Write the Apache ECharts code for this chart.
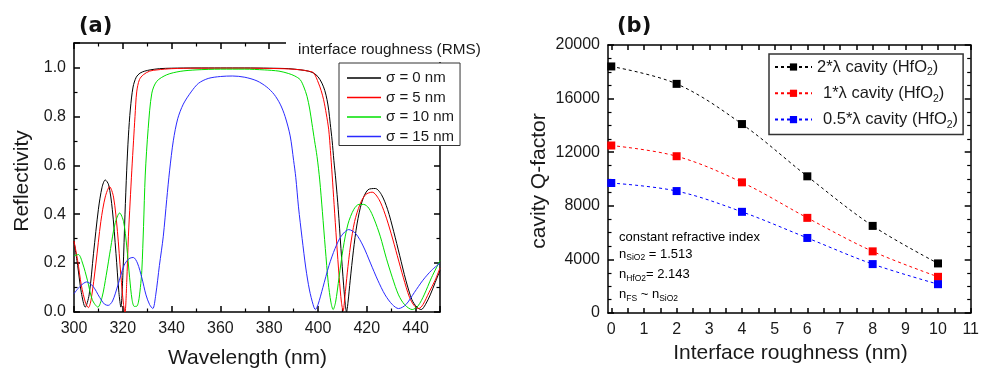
<!DOCTYPE html>
<html><head><meta charset="utf-8">
<script src="https://cdn.jsdelivr.net/npm/echarts@6/dist/echarts.min.js"></script>
<style>html,body{margin:0;padding:0;background:#fff}#c{width:982px;height:370px}</style>
</head><body><div id="c"></div>
<script>
// ---------- Panel (a): reflectivity spectra ----------
const sigmaNames = ['σ = 0 nm', 'σ = 5 nm', 'σ = 10 nm', 'σ = 15 nm'];
const wl0 = [300,301.5,303,304.6,306.2,308,310,311.5,312.8,314.2,315.7,317.2,318.4,319.2,320.1,320.9,321.6,322.3,323.1,324.2,325.5,327.1,329,331.2,335,340,350,360,370,380,388,393,396,398.2,400,401.6,402.8,403.7,404.4,405,405.8,406.5,407.3,408.3,409.4,410.5,411.2,411.7,412.3,413.2,414.5,416,418,420.5,423.5,426,428.5,431,433.5,436,438.5,440.5,442.3,444,446,448,450];
const r0  = [0.29,0.19,0.08,0.02,0.07,0.24,0.42,0.51,0.54,0.52,0.42,0.24,0.08,0.02,0.17,0.4,0.58,0.72,0.83,0.92,0.96,0.977,0.985,0.99,0.995,0.997,0.998,0.998,0.998,0.997,0.995,0.99,0.985,0.977,0.962,0.936,0.905,0.868,0.825,0.772,0.7,0.62,0.54,0.42,0.26,0.11,0.03,0.0,0.04,0.13,0.25,0.36,0.45,0.5,0.505,0.48,0.42,0.33,0.23,0.13,0.05,0.02,0.01,0.03,0.07,0.12,0.17];
const wl5 = [300,301.5,303,304.8,305.9,307,309,311,312.8,314.6,316.2,317.8,319.2,320.3,320.9,321.6,322.3,323,323.7,324.4,325,325.7,326.8,328.4,331,334,340,350,360,370,380,388,393,396,398.2,400.2,401.3,402.3,403.4,404.4,405.1,405.8,406.6,407.6,408.7,409.6,410.3,411,412,413.3,415,417.2,419.5,422.2,425,427.5,430,432.5,435,437.5,439.5,441.3,443,445.5,448,450];
const r5  = [0.29,0.21,0.11,0.035,0.018,0.05,0.2,0.37,0.47,0.512,0.47,0.33,0.15,0.03,0.0,0.12,0.31,0.45,0.58,0.7,0.8,0.9,0.95,0.97,0.985,0.99,0.995,0.997,0.997,0.997,0.996,0.994,0.99,0.985,0.978,0.936,0.905,0.868,0.81,0.745,0.66,0.56,0.44,0.29,0.14,0.04,0.005,0.06,0.16,0.27,0.37,0.44,0.48,0.49,0.46,0.4,0.32,0.23,0.14,0.06,0.025,0.014,0.03,0.08,0.13,0.18];
const wl10 = [300,301.8,303.5,305.5,307.5,309.8,311.5,313.2,315,316.8,318.7,320.3,321.6,322.8,323.8,324.7,325.6,326.4,327.2,327.8,328.5,329.2,330.4,331.9,333.9,338,343.5,350,360,370,378,384,388,390.5,392.7,394.2,395.5,396.6,397.5,398.6,399.6,400.7,401.8,403,404.2,405.3,406.2,407.2,408.6,410.3,412.3,414.7,416.8,418.7,420.8,423,425.5,428,430.5,433,435.5,438.6,441,443.5,446.5,450];
const r10  = [0.23,0.235,0.2,0.13,0.05,0.02,0.06,0.15,0.26,0.36,0.405,0.37,0.27,0.14,0.05,0.023,0.023,0.04,0.1,0.17,0.35,0.56,0.75,0.895,0.943,0.97,0.984,0.99,0.993,0.993,0.99,0.985,0.975,0.965,0.95,0.92,0.882,0.83,0.772,0.7,0.636,0.54,0.41,0.26,0.12,0.04,0.01,0.04,0.14,0.26,0.36,0.42,0.44,0.44,0.425,0.38,0.31,0.22,0.14,0.07,0.03,0.01,0.025,0.07,0.14,0.21];
const wl15 = [300,302.5,305.2,307.8,310.5,312.5,314,315.8,318,320.5,322.5,324.3,326,327.8,329.5,331,332.3,333.5,335,336.6,338,339.2,340.7,342.5,344.8,348,351,355,360,365,370,375,379,382,384.5,386.5,388.6,390,390.9,392,393.5,395,396.5,398,398.9,400,402,404.5,407,409.5,412.6,415.5,418.5,421.5,424.5,427.5,430.5,433,436,439.5,443,446.5,450];
const r15  = [0.075,0.105,0.123,0.105,0.06,0.032,0.027,0.045,0.11,0.19,0.218,0.223,0.2,0.14,0.07,0.03,0.014,0.07,0.19,0.31,0.46,0.58,0.7,0.79,0.85,0.9,0.935,0.955,0.963,0.965,0.96,0.945,0.92,0.89,0.85,0.8,0.72,0.62,0.55,0.43,0.3,0.18,0.09,0.03,0.01,0.03,0.1,0.19,0.26,0.31,0.337,0.32,0.27,0.2,0.13,0.07,0.03,0.014,0.03,0.08,0.13,0.17,0.2];

// ---------- Panel (b): cavity Q-factor ----------
const qNames = ['2*λ cavity (HfO2)', '1*λ cavity (HfO2)', '0.5*λ cavity (HfO2)'];
const roughness = [0, 2, 4, 6, 8, 10];
const q2   = [18400, 17100, 14100, 10200, 6500, 3700];
const q1   = [12500, 11700, 9750, 7100, 4600, 2700];
const q05  = [9700, 9100, 7550, 5600, 3650, 2150];
const bTickLabels = [0,1,2,3,4,5,6,7,8,9,10,11];
const bTicks = [0,0.5,1,1.5,2,2.5,3,3.5,4,4.5,5,5.5,6,6.5,7,7.5,8,8.5,9,9.5,10,10.5,11];

const FONT = '"Liberation Sans", Arial, Helvetica, sans-serif';
const TXT = '#1a1a1a';
const zip = (a, b) => a.map((v, i) => [v, b[i]]);

const frame = () => ({ show: true, onZero: false, lineStyle: { color: '#000', width: 1.5 } });
const tick = (len, extra) => Object.assign({ show: true, inside: true, length: len, lineStyle: { color: '#000', width: 1.5 } }, extra || {});
const minor = n => ({ show: true, splitNumber: n, length: 3.5, lineStyle: { color: '#000', width: 1.2 } });
const lab = extra => Object.assign({ fontSize: 16, color: TXT, fontFamily: FONT }, extra);

const leftColors = ['#000000', '#ff0000', '#00e000', '#2a2aff'];
const leftData = [zip(wl0, r0), zip(wl5, r5), zip(wl10, r10), zip(wl15, r15)];
const rightColors = ['#000000', '#ff0000', '#0000ff'];
const rightData = [zip(roughness, q2), zip(roughness, q1), zip(roughness, q05)];

const series = [];
leftData.forEach((d, i) => series.push({
  type: 'line', name: sigmaNames[i], xAxisIndex: 0, yAxisIndex: 0, data: d,
  symbol: 'none', showSymbol: false, smooth: 0.3,
  lineStyle: { color: leftColors[i], width: 1 }, itemStyle: { color: leftColors[i] },
  silent: true
}));
rightData.forEach((d, i) => series.push({
  type: 'line', name: qNames[i], xAxisIndex: 2, yAxisIndex: 2, data: d,
  symbol: 'rect', symbolSize: 8, smooth: 0.35,
  lineStyle: { color: rightColors[i], width: 1, type: [3, 3] },
  itemStyle: { color: rightColors[i] }, z: 3, silent: true
}));

const subRich = (mainSize, subSize, lh) => ({
  m: { fontSize: mainSize, fontFamily: FONT, color: TXT, lineHeight: lh },
  mi: { fontSize: mainSize, fontFamily: FONT, color: TXT, lineHeight: lh, padding: [0, 0, 0, 6] },
  sub: { fontSize: subSize, fontFamily: FONT, color: TXT, lineHeight: Math.round(subSize), verticalAlign: 'bottom' }
});
const annRich = {
  m: { fontSize: 13, fontFamily: FONT, color: '#333', lineHeight: 17 },
  s: { fontSize: 8.5, fontFamily: FONT, color: '#333', lineHeight: 8, verticalAlign: 'bottom' }
};

const option = {
  animation: false,
  backgroundColor: '#fff',
  grid: [
    { left: 74, top: 43, width: 366, height: 269 },
    { left: 608, top: 45, width: 365, height: 268 }
  ],
  xAxis: [
    { gridIndex: 0, type: 'value', min: 300, max: 450, interval: 20, position: 'bottom',
      axisLine: frame(), axisTick: tick(6), minorTick: minor(2), splitLine: { show: false },
      axisLabel: lab({ margin: 9, showMaxLabel: false }) },
    { gridIndex: 0, type: 'value', min: 300, max: 450, interval: 20, position: 'top',
      axisLine: frame(), axisTick: tick(6), minorTick: minor(2), splitLine: { show: false },
      axisLabel: { show: false } },
    { gridIndex: 1, type: 'value', min: -0.1, max: 11, position: 'bottom',
      axisLine: frame(), axisTick: tick(5, { customValues: bTicks }),
      splitLine: { show: false },
      axisLabel: lab({ margin: 9, customValues: bTickLabels }) },
    { gridIndex: 1, type: 'value', min: -0.1, max: 11, position: 'top',
      axisLine: frame(), axisTick: tick(5, { customValues: bTicks }),
      splitLine: { show: false }, axisLabel: { show: false } }
  ],
  yAxis: [
    { gridIndex: 0, type: 'value', min: 0, max: 1.1, interval: 0.2, position: 'left',
      axisLine: frame(), axisTick: tick(6), minorTick: minor(2), splitLine: { show: false },
      axisLabel: lab({ margin: 8, showMaxLabel: false, formatter: v => v.toFixed(1) }) },
    { gridIndex: 0, type: 'value', min: 0, max: 1.1, interval: 0.2, position: 'right',
      axisLine: frame(), axisTick: tick(6), minorTick: minor(2), splitLine: { show: false },
      axisLabel: { show: false } },
    { gridIndex: 1, type: 'value', min: 0, max: 20000, interval: 4000, position: 'left',
      axisLine: frame(), axisTick: tick(6), minorTick: minor(4), splitLine: { show: false },
      axisLabel: lab({ margin: 8, formatter: v => String(v) }) },
    { gridIndex: 1, type: 'value', min: 0, max: 20000, interval: 4000, position: 'right',
      axisLine: frame(), axisTick: tick(6), minorTick: minor(4), splitLine: { show: false },
      axisLabel: { show: false } }
  ],
  legend: [
    { data: sigmaNames, orient: 'vertical', left: 339, top: 63, icon: 'rect',
      itemWidth: 34, itemHeight: 1.5, itemGap: 1.5, padding: [6, 6, 0, 8],
      borderColor: '#333', borderWidth: 1, backgroundColor: '#fff', z: 120,
      selectedMode: false,
      textStyle: { fontSize: 15, fontFamily: FONT, color: TXT, lineHeight: 18 } },
    { data: qNames, orient: 'vertical', left: 769, top: 54,
      itemWidth: 37, itemHeight: 9, itemGap: 4.3, padding: [2, 5, 4, 5],
      borderColor: '#333', borderWidth: 1.5, backgroundColor: '#fff', z: 120,
      selectedMode: false,
      formatter: name => {
        const base = name.replace('HfO2)', 'HfO');
        const tag = qNames.indexOf(name) === 0 ? 'm' : 'mi';
        return '{' + tag + '|' + base + '}{sub|2}{m|)}';
      },
      textStyle: { fontSize: 16.5, fontFamily: FONT, color: TXT, lineHeight: 22, rich: subRich(16.5, 10.5, 22) } }
  ],
  graphic: [
    { type: 'rect', z: 50, shape: { x: 286, y: 33, width: 196, height: 29 }, style: { fill: '#fff' }, silent: true },
    { type: 'text', z: 60, x: 298, y: 50, style: { text: 'interface roughness (RMS)', font: '15.3px ' + FONT, fill: TXT, verticalAlign: 'middle' } },
    { type: 'text', z: 60, x: 79, y: 27, style: { text: '(a)', font: 'bold 21px "DejaVu Sans", sans-serif', fill: '#111', verticalAlign: 'middle' } },
    { type: 'text', z: 60, x: 617, y: 27, style: { text: '(b)', font: 'bold 21px "DejaVu Sans", sans-serif', fill: '#111', verticalAlign: 'middle' } },
    { type: 'text', z: 60, x: 22, y: 181, rotation: Math.PI / 2, style: { text: 'Reflectivity', font: '21px ' + FONT, fill: TXT, align: 'center', verticalAlign: 'middle' } },
    { type: 'text', z: 60, x: 247.5, y: 358, style: { text: 'Wavelength (nm)', font: '21px ' + FONT, fill: TXT, align: 'center', verticalAlign: 'middle' } },
    { type: 'text', z: 60, x: 539, y: 181, rotation: Math.PI / 2, style: { text: 'cavity Q-factor', font: '21px ' + FONT, fill: TXT, align: 'center', verticalAlign: 'middle' } },
    { type: 'text', z: 60, x: 790.5, y: 353, style: { text: 'Interface roughness (nm)', font: '21px ' + FONT, fill: TXT, align: 'center', verticalAlign: 'middle' } },
    { type: 'text', z: 60, x: 619, y: 237, style: { text: '{m|constant refractive index}', rich: annRich, verticalAlign: 'middle' } },
    { type: 'text', z: 60, x: 619, y: 254, style: { text: '{m|n}{s|SiO2}{m| = 1.513}', rich: annRich, verticalAlign: 'middle' } },
    { type: 'text', z: 60, x: 619, y: 274.5, style: { text: '{m|n}{s|HfO2}{m|= 2.143}', rich: annRich, verticalAlign: 'middle' } },
    { type: 'text', z: 60, x: 619, y: 294.5, style: { text: '{m|n}{s|FS}{m| ~ n}{s|SiO2}', rich: annRich, verticalAlign: 'middle' } }
  ],
  series: series
};

const chart = echarts.init(document.getElementById('c'), null, { renderer: 'canvas' });
chart.setOption(option);
chart.getZr().refreshImmediately();
</script>
</body></html>
